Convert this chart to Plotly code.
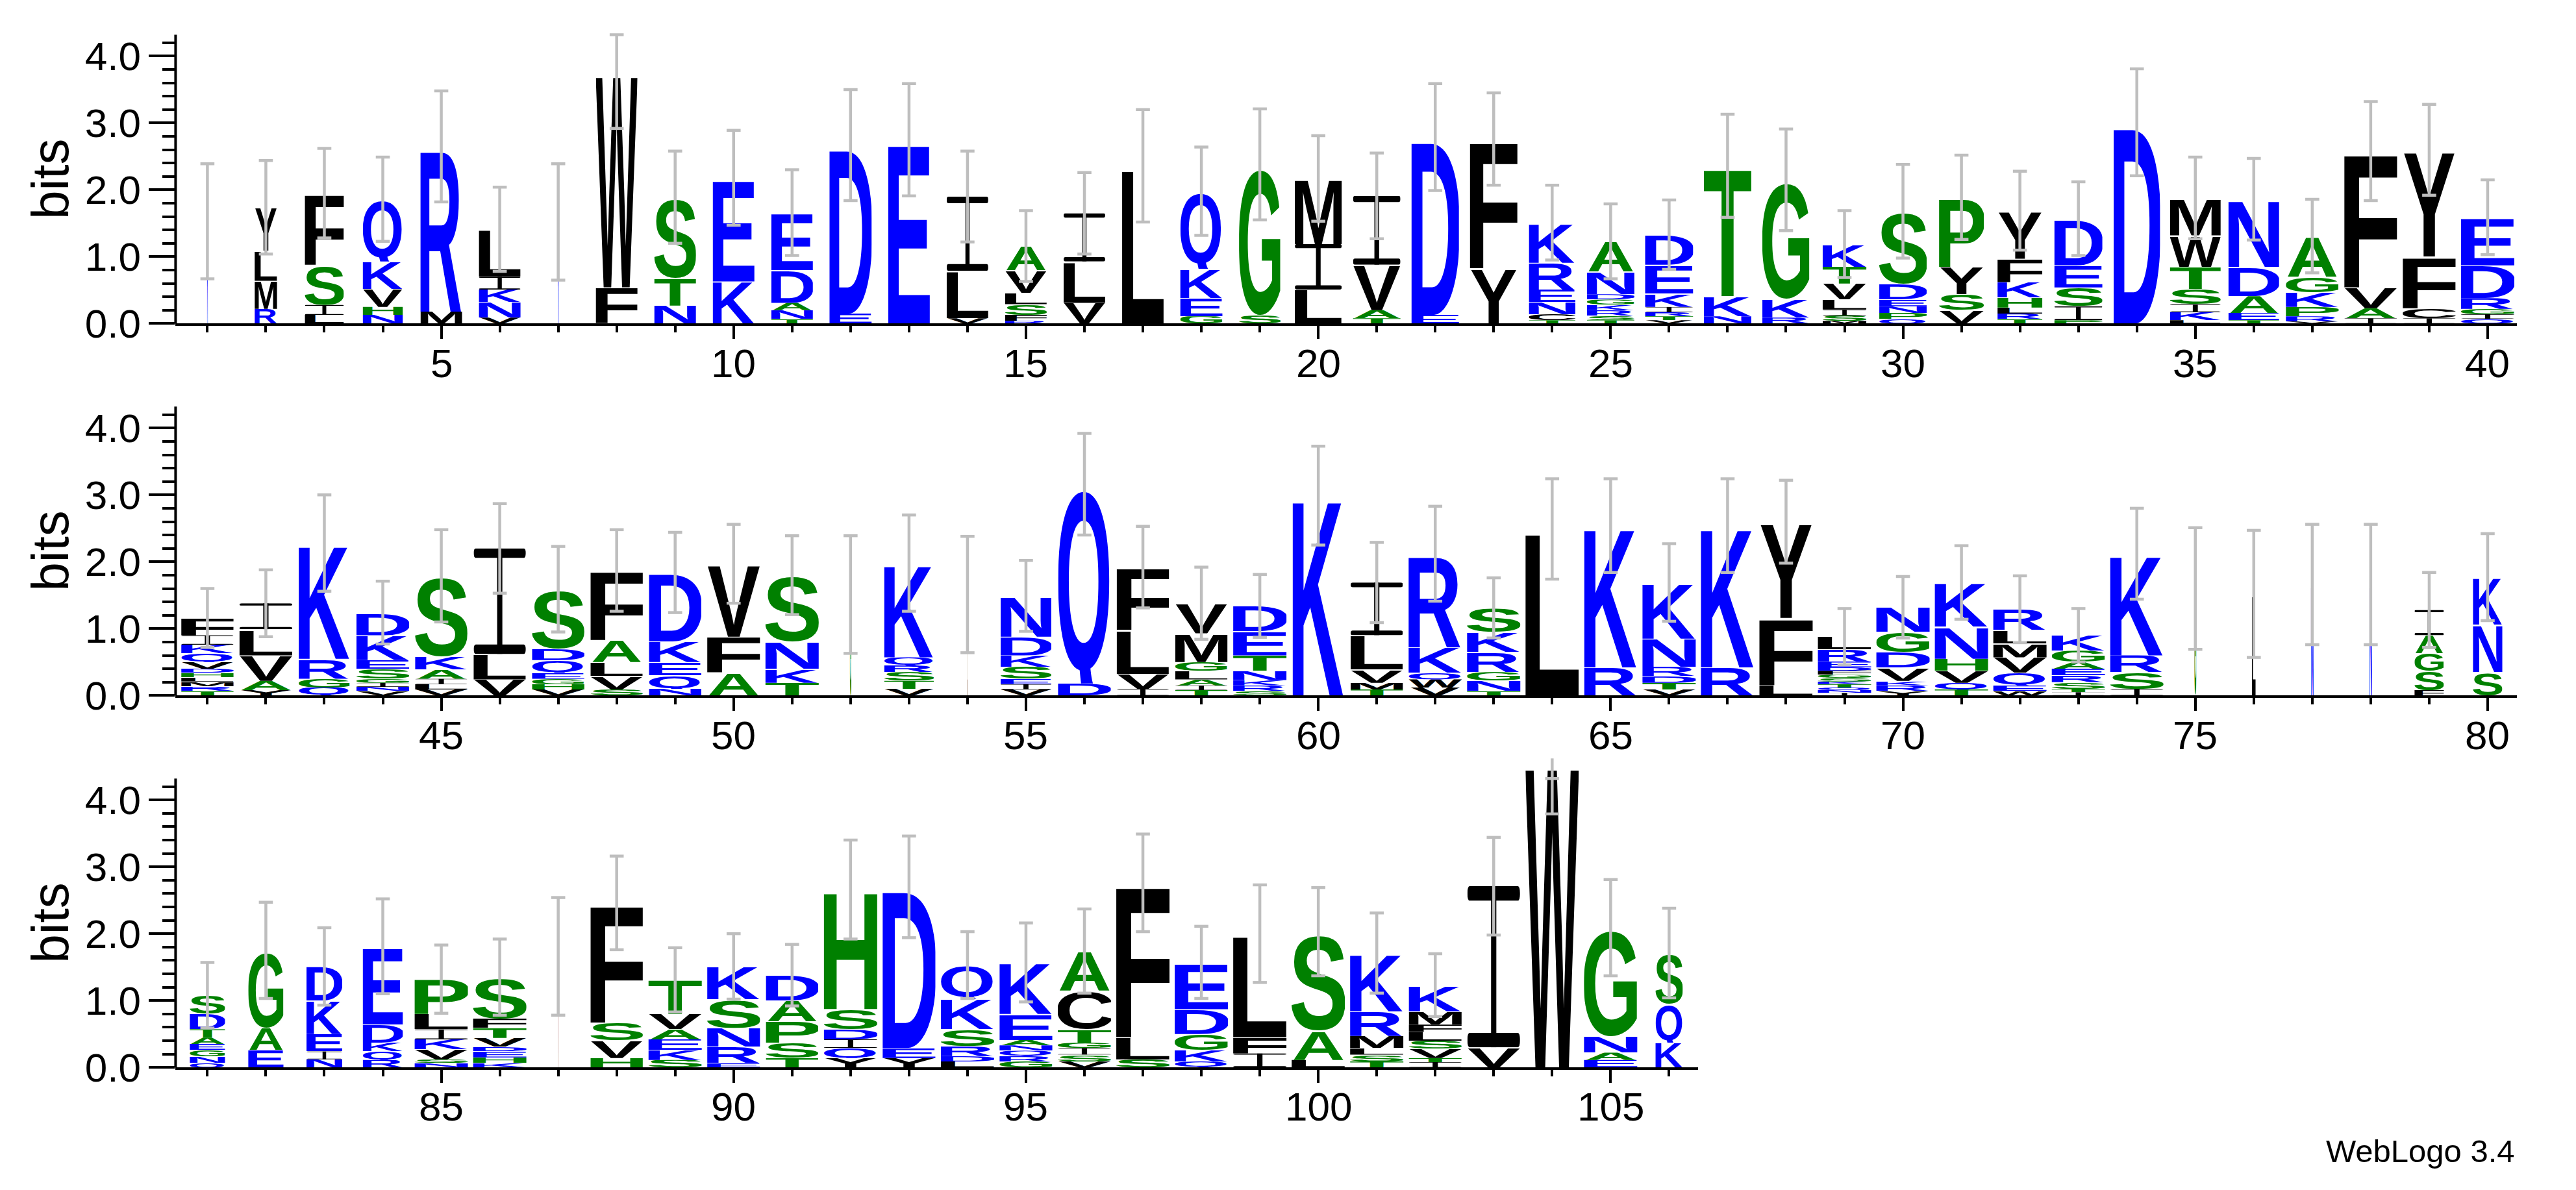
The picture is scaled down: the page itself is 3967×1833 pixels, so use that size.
import base64
import plotly.graph_objects as go

# ---------------------------------------------------------------------------
# sequence logo data: each stack is "letter+bits" from bottom to top
row1_stacks = [
    "K1.53", "R.22 M.42 L.45 Y.65", "L.13 I.15 S.60 F1.07", "N.13 H.12 V.27 K.41 Q.93",
    "M.18 R2.47", "V.09 N.23 K.19 I.19 L.71", "K1.52", "F.54 W3.26", "N.27 T.41 S1.21",
    "K.63 E1.55", "T.07 N.13 A.11 D.49 E.86", "E.15 D2.52", "E2.75", "V.08 L.71 I1.11",
    "R.04 F.09 S.16 L.17 V.34 A.36", "V.31 L.62 I.72", "L2.36", "G.11 E.27 K.44 Q1.16",
    "S.12 G2.26", "L.51 I.68 M.98", "T.08 A.12 V.68 I1.03", "E.13 D2.66", "Y.83 F1.93",
    "T.05 C.09 N.18 E.19 R.40 K.60", "T.05 S.07 R.08 K.08 G.08 D.08 N.34 A.45",
    "V.05 T.06 R.06 I.08 K.20 E.43 D.45", "N.11 K.30 T1.95", "R.09 K.27 G1.79",
    "M.04 S.08 I.09 L.15 V.24 T.25 K.34", "Q.07 P.09 N.10 E.10 D.23 S1.09",
    "V.20 S.24 Y.41 P1.04", "T.07 R.08 L.09 H.15 K.23 F.35 Y.72", "P.05 I.21 S.28 E.33 D.70",
    "D3.01", "L.05 K.12 I.12 S.23 T.33 W.47 M.56", "T.05 E.11 A.25 D.44 N1.01",
    "V.03 R.08 P.14 K.22 G.23 A.61", "I.08 A.15 V.31 F2.04", "I.08 C.15 F.77 Y1.60",
    "Q.07 I.07 G.08 R.16 D.49 E.72",
]
row2_stacks = [
    "T.07 R.07 M.07 L.06 H.07 D.06 V.10 Q.13 K.13 I.14 F.26", "Y.08 A.14 V.38 L.39 I.39",
    "Q.12 G.13 R.30 K1.73", "V.07 N.06 I.06 G.06 S.15 E.13 K.37 D.34",
    "V.09 L.08 I.08 A.14 K.19 S1.21", "V.24 L.38 I1.58", "V.09 H.08 G.08 E.09 Q.19 D.17 S.89",
    "S.09 V.20 L.21 A.33 F1.04", "N.10 Q.20 E.20 K.31 D1.03", "A.34 F.54 V1.09",
    "T.19 K.21 N.40 S1.00", "G1.51", "V.10 T.12 S.13 R.10 Q.12 K1.41", "L1.51",
    "V.09 I.08 E.08 S.18 K.17 D.28 N.61", "D.18 Q2.98", "I.10 V.22 L.66 F.94",
    "T.08 I.07 A.09 L.13 G.13 M.43 V.45", "S.07 R.08 K.08 N.14 T.23 E.36 D.38", "K2.99",
    "T.09 M.10 V.20 L.51 I.79", "V.12 W.12 Q.10 K.38 R1.40", "T.07 N.15 G.13 R.30 K.30 S.36",
    "L2.49", "R.42 K2.12", "V.09 T.10 D.10 R.14 N.42 K.84", "R.42 K2.12", "L.15 F1.01 Y1.44",
    "I.04 N.04 Q.04 T.05 K.04 S.05 G.05 F.06 D.05 E.09 R.18 L.19",
    "Y.07 R.08 K.07 V.20 D.23 G.30 N.37", "T.09 Q.10 V.18 H.18 N.48 K.66",
    "W.07 E.08 Q.19 V.23 M.21 L.20 R.31", "I.05 T.05 S.10 R.10 E.10 A.10 G.17 K.23",
    "I.10 S.25 R.25 K1.52", "G1.60", "L1.52", "N1.66", "N1.66", "F.08 S.29 G.26 A.27 I.38",
    "S.35 N.71 K.71",
]
row3_stacks = [
    "Q.07 N.09 G.10 E.09 A.10 T.12 D.23 S.28", "E.26 A.33 G1.16", "N.12 I.12 E.26 K.50 D.51",
    "R.11 Q.13 K.13 D.27 E1.17", "N.07 S.05 V.15 K.15 I.15 L.23 P.52",
    "K.07 H.08 E.09 D.07 V.13 T.15 F.14 S.62", "W1.66", "H.14 V.26 S.27 F1.79",
    "S.11 K.15 E.16 A.15 V.23 T.51", "E.07 R.24 N.28 S.43 K.49", "T.14 S.23 P.32 A.31 D.38",
    "Y.14 Q.15 I.13 D.15 S.30 H1.79", "Y.14 E.15 D2.41", "L.09 D.08 R.15 S.25 K.45 Q.51",
    "G.09 R.08 Q.08 N.08 A.08 E.39 K.77", "V.09 S.10 I.10 G.08 T.20 C.58 A.59",
    "S.12 L.33 F2.31", "Q.09 K.17 G.24 D.37 E.70", "I.21 F.24 L1.55", "L.11 A.44 S1.48",
    "T.09 S.10 L.10 M.18 R.37 K.87", "I.08 T.06 V.14 S.12 L.13 F.11 M.20 K.39",
    "V.30 I2.41", "W4.62", "E.11 A.11 N.24 G1.63", "K.37 Q.58 S.76",
]

# error bar half lengths (bits)
row1_err = [0.86, 0.70, 0.67, 0.63, 0.83, 0.63, 0.87, 0.88, 0.69, 0.71, 0.64, 0.83, 0.84, 0.68,
            0.53, 0.61, 0.84, 0.66, 0.83, 0.64, 0.64, 0.80, 0.69, 0.56, 0.56, 0.52, 0.77, 0.76,
            0.50, 0.70, 0.63, 0.59, 0.55, 0.80, 0.61, 0.61, 0.55, 0.74, 0.68, 0.56]
row2_err = [0.44, 0.50, 0.72, 0.47, 0.69, 0.67, 0.64, 0.61, 0.60, 0.59, 0.59, 0.88, 0.72, 0.87,
            0.53, 0.76, 0.61, 0.54, 0.47, 0.74, 0.60, 0.71, 0.45, 0.75, 0.70, 0.58, 0.70, 0.62,
            0.42, 0.46, 0.55, 0.50, 0.40, 0.68, 0.91, 0.95, 0.90, 0.90, 0.56, 0.65]
row3_err = [0.49, 0.72, 0.58, 0.71, 0.51, 0.57, 0.88, 0.70, 0.48, 0.49, 0.46, 0.74, 0.76, 0.50,
            0.59, 0.63, 0.73, 0.54, 0.73, 0.66, 0.60, 0.47, 0.73, 0.83, 0.72, 0.67]

# fraction of non-gap sequences per column (scales the stack width)
row1_occ = [0.02, 0.42, 0.73, 0.75, 0.78, 0.78, 0.02, 0.78, 0.78, 0.78, 0.78, 0.79, 0.78, 0.78,
            0.78, 0.78, 0.78, 0.79, 0.78, 0.88, 0.89, 0.89, 0.89, 0.87, 0.89, 0.90, 0.89, 0.89,
            0.82, 0.89, 0.84, 0.84, 0.90, 0.87, 0.95, 0.95, 0.99, 0.99, 0.99, 1.00]
row2_occ = [0.98, 0.99, 0.96, 0.99, 0.98, 0.98, 0.98, 0.98, 0.98, 0.99, 1.00, 0.03, 0.93, 0.01,
            0.95, 0.99, 0.98, 0.98, 1.00, 0.96, 0.98, 1.00, 1.00, 1.00, 0.99, 1.00, 1.00, 1.00,
            1.00, 1.00, 1.00, 1.00, 1.00, 1.00, 0.04, 0.07, 0.05, 0.05, 0.55, 0.55]
row3_occ = [0.66, 0.66, 0.67, 0.75, 1.00, 1.00, 0.01, 0.98, 1.00, 0.99, 0.98, 1.00, 0.99, 1.00,
            0.99, 1.00, 1.00, 1.00, 1.00, 1.00, 1.00, 0.99, 0.99, 1.00, 1.00, 0.51]

row_first = [1, 41, 81]
row_last = [40, 80, 106]
y_ticks = [0, 1, 2, 3, 4]
y_ticktext = ["0.0", "1.0", "2.0", "3.0", "4.0"]
MAX_BITS = 4.32

# ---------------------------------------------------------------------------
# styling
W, H = 3967, 1833
STACK_W = 0.91
PX_PER_BIT = 105
PX_PER_POS = 90.04
Y_TOP = 4.75
AXIS_LEFT = 262.4
ROW_BASE = [500, 1084, 1668]
XLABEL_DROP = 62
FONT = "Liberation Sans, Arial, Helvetica, sans-serif"
ERR_COL = "#bebebe"

BLUE, GREEN, BLACK = "#0000ff", "#008000", "#000000"
COLOURS = {}
for c in "RKDENQ":
    COLOURS[c] = BLUE
for c in "SGHTAP":
    COLOURS[c] = GREEN
for c in "YVMCLFIW":
    COLOURS[c] = BLACK

# ink boxes of the bold glyphs (1/1000 em): xmin, xmax, ymin, ymax
BBOX = {
    "A": (0, 720, 0, 716), "C": (48, 676, -13, 729), "D": (74, 670, 0, 716),
    "E": (74, 617, 0, 716), "F": (75, 562, 0, 716), "G": (44, 722, -13, 729),
    "H": (74, 648, 0, 716), "K": (74, 724, 0, 716),
    "L": (77, 581, 0, 716), "M": (70, 762, 0, 716), "N": (74, 647, 0, 716),
    "P": (74, 620, 0, 716), "Q": (40, 757, -57, 729), "R": (74, 718, 0, 716),
    "S": (34, 624, -13, 729), "T": (22, 589, 0, 716), "V": (0, 666, 0, 716),
    "W": (4, 940, 0, 716), "Y": (0, 666, 0, 716),
}


def glyph(ch):
    if ch == "I":
        # serif I, as WebLogo draws it
        body = ('<rect x="0" y="0" width="100" height="9" rx="4"/>'
                '<rect x="45" y="0" width="10" height="100"/>'
                '<rect x="0" y="91" width="100" height="9" rx="4"/>')
        svg = ('<svg xmlns="http://www.w3.org/2000/svg" width="100" height="100" '
               'viewBox="0 0 100 100" preserveAspectRatio="none">'
               f'<g fill="{COLOURS[ch]}">{body}</g></svg>')
    else:
        x0, x1, y0, y1 = BBOX[ch]
        svg = (f'<svg xmlns="http://www.w3.org/2000/svg" width="{x1 - x0}" height="{y1 - y0}" '
               f'viewBox="{x0} {-y1} {x1 - x0} {y1 - y0}" preserveAspectRatio="none">'
               f'<text x="0" y="0" font-family="{FONT}" font-weight="bold" font-size="1000" '
               f'fill="{COLOURS[ch]}">{ch}</text></svg>')
    return "data:image/svg+xml;base64," + base64.b64encode(svg.encode()).decode()


GLYPHS = {c: glyph(c) for c in COLOURS}

fig = go.Figure()
images, shapes, annotations = [], [], []
rows = [(row1_stacks, row1_err, row1_occ), (row2_stacks, row2_err, row2_occ),
        (row3_stacks, row3_err, row3_occ)]

for r, (stacks, errs, occ) in enumerate(rows):
    sfx = "" if r == 0 else str(r + 1)
    xa, ya = "x" + sfx, "y" + sfx
    first, last = row_first[r], row_last[r]
    x_lo = first - (311.4 - AXIS_LEFT) / PX_PER_POS
    x_hi = last + 0.5
    xd0 = AXIS_LEFT / W
    xd1 = (AXIS_LEFT + (x_hi - x_lo) * PX_PER_POS) / W
    yd0 = (H - ROW_BASE[r]) / H
    yd1 = yd0 + Y_TOP * PX_PER_BIT / H

    ex, ey = [], []
    for i, s in enumerate(stacks):
        pos = first + i
        w = STACK_W * occ[i]
        top = 0.0
        for tok in s.split():
            ch, h = tok[0], float(tok[1:])
            images.append(dict(source=GLYPHS[ch], xref=xa, yref=ya, x=pos - w / 2, y=top + h,
                               sizex=w, sizey=h, xanchor="left", yanchor="top",
                               sizing="stretch", layer="below"))
            top += h
        lo = top - errs[i]
        hi = min(top + errs[i], MAX_BITS)
        ex += [pos, pos, None, pos - 0.12, pos + 0.12, None, pos - 0.12, pos + 0.12, None]
        ey += [lo, max(hi, top), None, lo, lo, None, hi, hi, None]

    fig.add_trace(go.Scatter(x=ex, y=ey, mode="lines", xaxis=xa, yaxis=ya,
                             line=dict(color=ERR_COL, width=4.5), hoverinfo="skip",
                             showlegend=False))

    major = [v for v in range(first, last + 1) if v % 5 == 0]
    fig.layout["xaxis" + sfx] = dict(
        domain=[xd0, xd1], range=[x_lo, x_hi], anchor=ya, showgrid=False, zeroline=False,
        showline=True, linecolor="black", linewidth=4,
        tickmode="array", tickvals=major, ticks="outside", ticklen=20, tickwidth=4,
        tickcolor="black", showticklabels=False,
        minor=dict(tickmode="array", tickvals=list(range(first, last + 1)), ticks="outside",
                   ticklen=10, tickwidth=4, tickcolor="black"),
        fixedrange=True)
    fig.layout["yaxis" + sfx] = dict(
        domain=[yd0, yd1], range=[0, Y_TOP], anchor=xa, showgrid=False, zeroline=False,
        showline=False, tickmode="array", tickvals=y_ticks, ticktext=y_ticktext,
        ticks="outside", ticklen=40, tickwidth=4, tickcolor="black",
        tickfont=dict(family=FONT, size=62, color="black"),
        minor=dict(tickmode="array", ticks="outside", ticklen=19, tickwidth=4,
                   tickcolor="black",
                   tickvals=[round(v * 0.2, 1) for v in range(1, 22) if v % 5]),
        fixedrange=True)

    # position numbers under the axis
    for v in major:
        annotations.append(dict(text=str(v), xref=xa, x=v, yref="paper",
                                y=(H - ROW_BASE[r] - XLABEL_DROP) / H, showarrow=False,
                                xanchor="center", yanchor="middle",
                                font=dict(family=FONT, size=62, color="black")))

    shapes.append(dict(type="line", xref="paper", yref=ya, x0=xd0, x1=xd0, y0=-0.03,
                       y1=MAX_BITS, line=dict(color="black", width=4)))
    annotations.append(dict(text="bits", xref="paper", yref="paper", x=70 / W,
                            y=(H - (ROW_BASE[r] - MAX_BITS / 2 * PX_PER_BIT)) / H,
                            textangle=-90, showarrow=False, xanchor="center", yanchor="middle",
                            font=dict(family=FONT, size=80, color="black")))

annotations.append(dict(text="WebLogo 3.4", xref="paper", yref="paper", x=3719 / W,
                        y=(H - 1799) / H, showarrow=False, xanchor="center", yanchor="middle",
                        font=dict(family=FONT, size=49, color="black")))

fig.update_layout(width=W, height=H, autosize=False, margin=dict(l=0, r=0, t=0, b=0),
                  paper_bgcolor="white", plot_bgcolor="white", images=images, shapes=shapes,
                  annotations=annotations, showlegend=False)

fig.write_html("out.html")
